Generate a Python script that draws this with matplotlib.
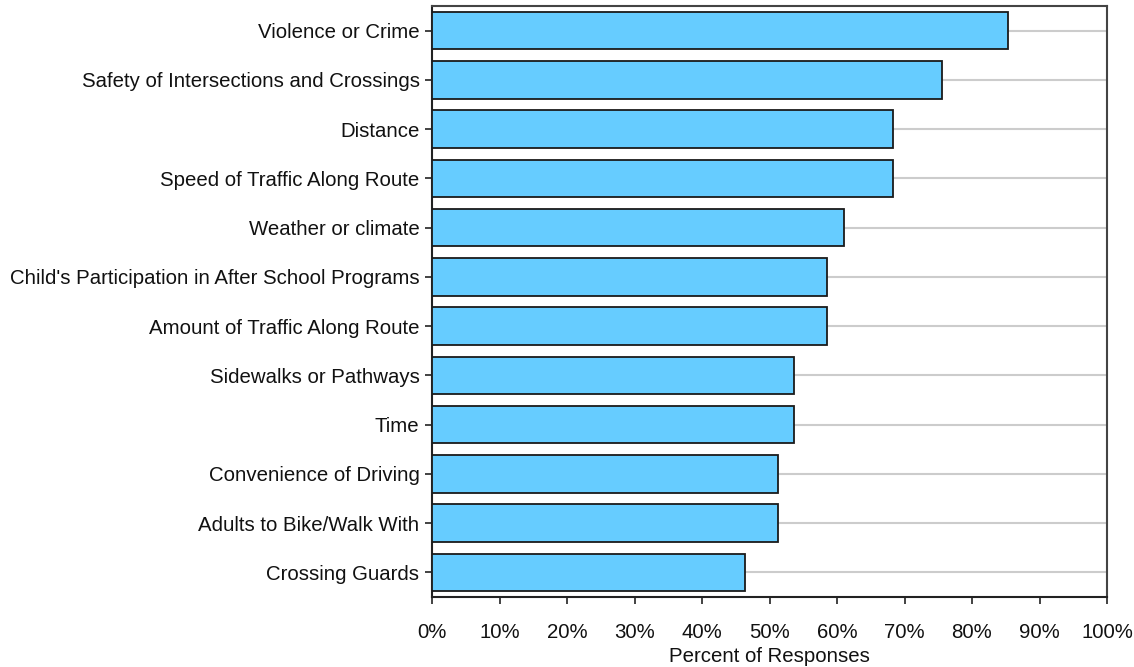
import matplotlib
matplotlib.use("Agg")
import matplotlib.pyplot as plt

categories = [
    "Violence or Crime",
    "Safety of Intersections and Crossings",
    "Distance",
    "Speed of Traffic Along Route",
    "Weather or climate",
    "Child's Participation in After School Programs",
    "Amount of Traffic Along Route",
    "Sidewalks or Pathways",
    "Time",
    "Convenience of Driving",
    "Adults to Bike/Walk With",
    "Crossing Guards",
]
values = [85.4, 75.6, 68.3, 68.3, 61.0, 58.5, 58.5, 53.7, 53.7, 51.2, 51.2, 46.3]
xticks = [0, 10, 20, 30, 40, 50, 60, 70, 80, 90, 100]
xticklabels = [f"{t}%" for t in xticks]

plt.rcParams['font.family'] = ['Liberation Sans', 'DejaVu Sans']
FS = 14.7

fig = plt.figure(figsize=(11.34, 6.67), dpi=100)
W, H = 1134, 667
ax = fig.add_axes([432 / W, 1 - 597 / H, (1107 - 432) / W, (597 - 6) / H])

ypos = list(range(len(categories)))
ax.barh(ypos, values, height=0.765, color="#66CCFF", edgecolor="#1a1a1a",
        linewidth=1.3, zorder=3)
ax.set_ylim(len(categories) - 0.5, -0.5)
ax.set_xlim(0, 100)
ax.set_yticks(ypos)
ax.set_yticklabels(categories, fontsize=FS, color="#111111")
ax.set_xticks(xticks)
ax.set_xticklabels(xticklabels, fontsize=FS, color="#111111")
ax.tick_params(axis="both", direction="out", length=5, width=1.2, color="#222222")
ax.tick_params(axis="y", pad=4)
ax.tick_params(axis="x", pad=14)
ax.yaxis.grid(True, color="#cccccc", linewidth=1.5, zorder=0)
ax.set_axisbelow(True)
for s in ["top", "right"]:
    ax.spines[s].set_color("#444444")
    ax.spines[s].set_linewidth(1.5)
for s in ["left", "bottom"]:
    ax.spines[s].set_color("#222222")
    ax.spines[s].set_linewidth(1.5)
ax.set_xlabel("Percent of Responses", fontsize=FS, color="#111111", labelpad=3)

fig.savefig("out.png", dpi=100)
